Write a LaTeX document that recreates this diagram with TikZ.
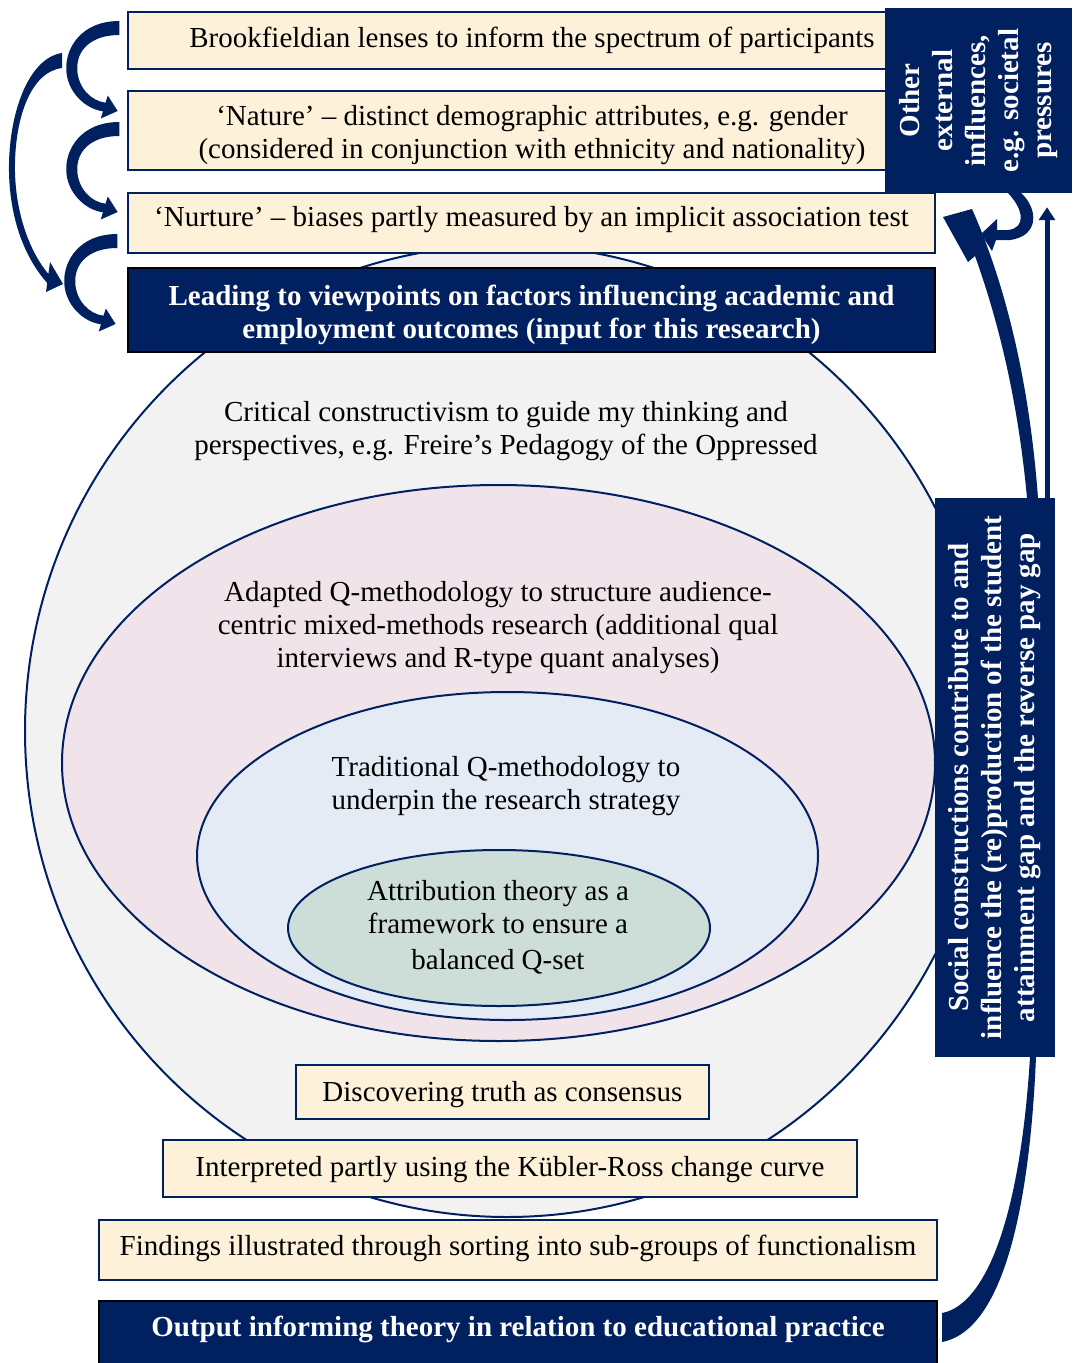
\documentclass[tikz,border=0pt]{standalone}
\usepackage{fontspec}
\setmainfont{Liberation Serif}
\usetikzlibrary{arrows.meta,calc}
\definecolor{navy}{HTML}{002060}
\definecolor{cream}{HTML}{FEF1DA}
\definecolor{lgray}{HTML}{F2F2F2}
\definecolor{lpink}{HTML}{F0E4EA}
\definecolor{lblue}{HTML}{E5EBF5}
\definecolor{lgreen}{HTML}{CDDDD8}

% C-shaped block arrow, drawn relative to its upper starting corner
\newcommand{\curlarrow}[1]{%
  \fill[navy, shift={#1}]
    (0,0) .. controls (-38,0) and (-54,27) .. (-53,49)
          .. controls (-52,71) and (-34,88) .. (-16.3,90.3)
    -- (-18.5,97.5) -- (-1.6,90) -- (-11.5,74.5) -- (-13.7,81.7)
          .. controls (-28,80) and (-41,67) .. (-42,49)
          .. controls (-43,29) and (-28,14) .. (0,14) -- cycle;}

% centred lines of box text, lifted (or lowered) inside their box
\newcommand{\boxtext}[2]{\raisebox{#1}[\height][\depth]{\begin{tabular}{@{}c@{}}#2\end{tabular}}}

\begin{document}
\begin{tikzpicture}[x=1pt,y=-1pt,
  every node/.style={font=\fontsize{29}{33}\selectfont, align=center, inner sep=0pt},
  ring/.style={draw=navy, line width=2pt},
  creambox/.style={draw=navy, line width=1.5pt, fill=cream},
  navybox/.style={draw=black, line width=2pt, fill=navy, text=white,
                  font=\fontsize{29}{33}\selectfont\bfseries},
  sidebox/.style={fill=navy, text=white, rotate=90,
                  font=\fontsize{29}{33}\selectfont\bfseries}]

\useasboundingbox (0,0) rectangle (1072,1363);

% nested layers of the research framework
\draw[ring, fill=lgray]  (507,731) ellipse [x radius=482pt, y radius=486pt];
\draw[ring, fill=lpink]  (498.5,763) ellipse [x radius=436.5pt, y radius=278pt];
\draw[ring, fill=lblue]  (507.5,856) ellipse [x radius=310.5pt, y radius=164pt];
\draw[ring, fill=lgreen] (499,928) ellipse [x radius=211pt, y radius=78pt];

\node (crit)  at (506,431.5) {Critical constructivism to guide my thinking and\\perspectives, e.g. Freire’s Pedagogy of the Oppressed};
\node (adapt) at (498,627.5) {Adapted Q-methodology to structure audience-\\centric mixed-methods research (additional qual\\interviews and R-type quant analyses)};
\node (trad)  at (506,786.5) {Traditional Q-methodology to\\underpin the research strategy};
\node (attr)  at (498,927.5) {Attribution theory as a\\framework to ensure a\\[3pt]balanced Q-set};

% lenses at the top
\node[creambox, minimum width=808pt, minimum height=57pt] (b1) at (532,40.5)
  {\boxtext{0pt}{Brookfieldian lenses to inform the spectrum of participants}};
\node[creambox, minimum width=808pt, minimum height=79pt] (b2) at (532,130.5)
  {\boxtext{-5pt}{‘Nature’ – distinct demographic attributes, e.g. gender\\(considered in conjunction with ethnicity and nationality)}};
\node[creambox, minimum width=807pt, minimum height=60pt] (b3) at (531.5,223)
  {\boxtext{3pt}{‘Nurture’ – biases partly measured by an implicit association test}};
\node[navybox, minimum width=807pt, minimum height=84pt] (b4) at (531.5,310)
  {\boxtext{-5.5pt}{Leading to viewpoints on factors influencing academic and\\employment outcomes (input for this research)}};

% lower boxes
\node[creambox, minimum width=413pt, minimum height=54pt] (disc) at (502.5,1092)
  {\boxtext{-3pt}{Discovering truth as consensus}};
\node[creambox, minimum width=694pt, minimum height=57pt] (kub) at (510,1168.5)
  {\boxtext{-1.5pt}{Interpreted partly using the Kübler-Ross change curve}};
\node[creambox, minimum width=838pt, minimum height=60pt] (find) at (518,1250)
  {\boxtext{1pt}{Findings illustrated through sorting into sub-groups of functionalism}};
\node[navybox, minimum width=838pt, minimum height=64pt] (out) at (518,1333)
  {\boxtext{3pt}{Output informing theory in relation to educational practice}};

% side panels
\node[sidebox, minimum width=185pt, minimum height=187pt] (ext) at (978.5,100.5)
  {Other\\external\\influences,\\e.g. societal\\pressures};
\node[sidebox, minimum width=559pt, minimum height=120pt] (soc) at (995,777.5)
  {Social constructions contribute to and\\influence the (re)production of the student\\attainment gap and the reverse pay gap};

% curled arrows linking the lenses
\curlarrow{($(b1.west)+(-8,-19.5)$)}
\curlarrow{($(b2.west)+(-8,-8.5)$)}
\curlarrow{($(b3.west)+(-10,11)$)}

% long arrow from the first lens to the viewpoints
\fill[navy]
  (62,53) .. controls (28,58) and (8,115) .. (9,172)
          .. controls (10,220) and (25,258) .. (47.2,283)
  -- (46,292) -- (63,284) -- (50,262) -- (48.4,274)
          .. controls (30,252) and (16,215) .. (15,172)
          .. controls (14,120) and (30,72) .. (62,68) -- cycle;

% from the output up into the social constructions panel
\fill[navy]
  (942,1313) .. controls (985,1305) and (1020,1220) .. (1030,1057)
  -- (1036,1057) .. controls (1030,1200) and (1005,1330) .. (942,1342) -- cycle;

% from the social constructions panel back to the lenses
\fill[navy]
  (1038,498) .. controls (1030,390) and (1008,290) .. (972,209)
  -- (943,217) -- (968,262) -- (975,256)
  .. controls (998,320) and (1018,400) .. (1027,498) -- cycle;

% hook from the external influences panel
\fill[navy]
  (1021,193) .. controls (1038,208) and (1040,236) .. (1010,240)
  -- (996,240) -- (992,251) -- (981,234) -- (997,219) -- (997,230)
  -- (1008,230) .. controls (1026,228) and (1024,210) .. (1008,193) -- cycle;

% straight arrow up towards the external influences panel
\coordinate (fS) at ([xshift=52pt]soc.east);
\coordinate (fE) at ([yshift=-14pt]fS |- ext.west);
\draw[navy, line width=5pt, -{Triangle[width=16pt,length=13pt]}] (fS) -- (fE);

\end{tikzpicture}
\end{document}
